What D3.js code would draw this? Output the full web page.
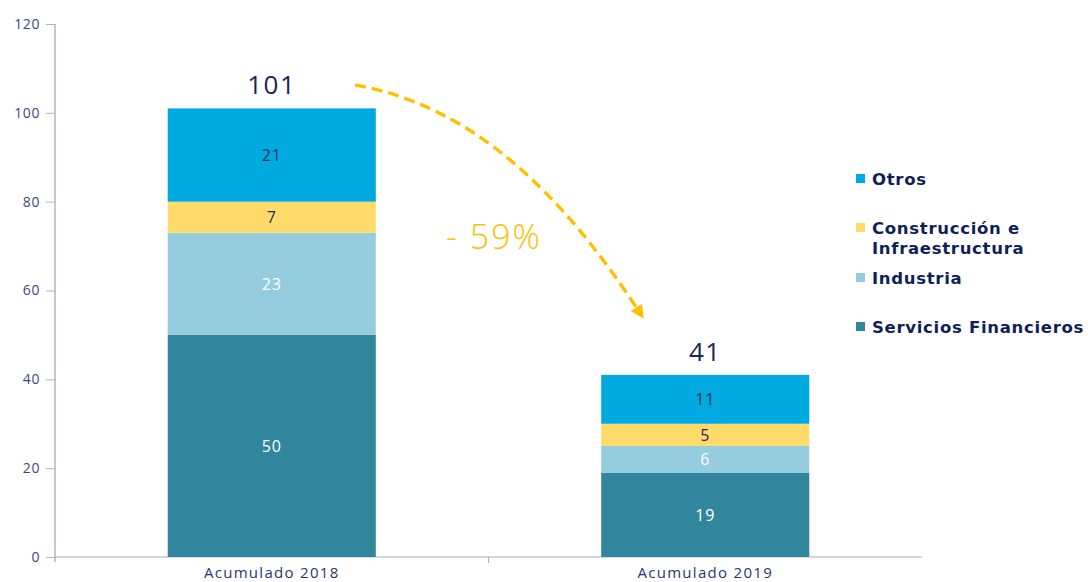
<!DOCTYPE html>
<html><head><meta charset="utf-8">
<script src="https://cdn.jsdelivr.net/npm/d3@7"></script>
<style>body{margin:0;background:#fff}svg{display:block}</style>
</head><body><svg id="c" width="1088" height="582"></svg>
<script>
const categories = ["Acumulado 2018", "Acumulado 2019"];
const seriesNames = ["Servicios Financieros", "Industria", "Construcción e Infraestructura", "Otros"];
const serviciosFinancieros = [50, 19];
const industria = [23, 6];
const construccion = [7, 5];
const otros = [21, 11];
const totals = [101, 41];
const yTicks = [0, 20, 40, 60, 80, 100, 120];
const changeLabel = "- 59%";

const colors = ["#31859C", "#96CDDE", "#FFDC6A", "#00A9E0"];
const labelColors = ["#ffffff", "#ffffff", "#1f2d5a", "#1f2d5a"];
const font = "'Open Sans', Lato, sans-serif";
const boldFont = "'DejaVu Sans', 'Open Sans', sans-serif";

const svg = d3.select("#c");
const x = d3.scaleBand().domain(categories).range([55, 922]).padding(0);
const y = d3.scaleLinear().domain([0, 120]).range([557, 24]);
const barW = x.bandwidth() * 0.48;

const series = [serviciosFinancieros, industria, construccion, otros];
const rows = categories.map((c, i) => {
  const o = {cat: c};
  seriesNames.forEach((s, k) => o[s] = series[k][i]);
  return o;
});
const stack = d3.stack().keys(seriesNames)(rows);

// axes
const yAxis = svg.append("g").attr("transform", "translate(55,0)")
  .call(d3.axisLeft(y).tickValues(yTicks).tickSize(9).tickPadding(6));
yAxis.select(".domain").attr("stroke", "#b4b6c4").attr("stroke-width", 1.5).attr("d", "M0,24V562");
yAxis.selectAll(".tick line").attr("stroke", "#b4b6c4");
yAxis.selectAll("text").attr("fill", "#3d4a80").attr("font-size", 14).attr("font-family", font).attr("letter-spacing", 0.6);

const xAxis = svg.append("g").attr("transform", "translate(0,557)")
  .call(d3.axisBottom(x).tickSize(0).tickPadding(10));
xAxis.select(".domain").attr("stroke", "#a9abbb").attr("d", "M55,0H922");
xAxis.selectAll("text").attr("fill", "#2a3670").attr("font-size", 15).attr("font-family", font).attr("letter-spacing", 1.3);
svg.append("line").attr("x1", x.step() + 55).attr("x2", x.step() + 55).attr("y1", 557).attr("y2", 563).attr("stroke", "#a9abbb");

// bars
stack.forEach((layer, k) => {
  const g = svg.append("g");
  g.selectAll("rect").data(layer).join("rect")
    .attr("x", d => x(d.data.cat) + (x.bandwidth() - barW) / 2)
    .attr("width", barW)
    .attr("y", d => y(d[1]))
    .attr("height", d => y(d[0]) - y(d[1]))
    .attr("fill", colors[k]);
  g.selectAll("text").data(layer).join("text")
    .attr("x", d => x(d.data.cat) + x.bandwidth() / 2)
    .attr("y", d => (y(d[0]) + y(d[1])) / 2)
    .attr("dy", "0.36em")
    .attr("text-anchor", "middle")
    .attr("font-size", 16).attr("font-family", font).attr("letter-spacing", 0.8)
    .attr("fill", labelColors[k])
    .text(d => d[1] - d[0]);
});

// totals
svg.selectAll(".tot").data(categories).join("text")
  .attr("x", c => x(c) + x.bandwidth() / 2)
  .attr("y", (c, i) => y(totals[i]) - 14)
  .attr("text-anchor", "middle")
  .attr("font-size", 26).attr("font-family", font).attr("letter-spacing", 1.5)
  .attr("fill", "#1a2657")
  .text((c, i) => totals[i]);

// arrow
const defs = svg.append("defs");
defs.append("marker").attr("id", "ah").attr("viewBox", "0 0 10 10").attr("refX", 5).attr("refY", 5)
  .attr("markerWidth", 4).attr("markerHeight", 4).attr("orient", "auto")
  .append("path").attr("d", "M0,0L10,5L0,10z").attr("fill", "#FFC000");
const p = d3.path();
p.moveTo(355, 85);
p.bezierCurveTo(470, 105, 560, 190, 640, 313);
svg.append("path").attr("d", p.toString()).attr("fill", "none")
  .attr("stroke", "#FFC000").attr("stroke-width", 3.4).attr("stroke-dasharray", "11,6")
  .attr("marker-end", "url(#ah)");
svg.append("text").attr("x", 494).attr("y", 249).attr("text-anchor", "middle")
  .attr("font-size", 34).attr("font-family", font).attr("font-weight", 300).attr("letter-spacing", 2)
  .attr("fill", "#FFC000").text(changeLabel);

// legend
const legend = [
  {k: 3, lines: ["Otros"], y: 179},
  {k: 2, lines: ["Construcción e", "Infraestructura"], y: 228},
  {k: 1, lines: ["Industria"], y: 278},
  {k: 0, lines: ["Servicios Financieros"], y: 327}
];
const lg = svg.append("g");
legend.forEach(l => {
  lg.append("rect").attr("x", 856).attr("y", l.y - 5).attr("width", 9).attr("height", 9).attr("fill", colors[l.k]);
  l.lines.forEach((s, i) => lg.append("text").attr("x", 872).attr("y", l.y + i * 20).attr("dy", "0.35em")
    .attr("font-size", 16.5).attr("font-weight", 700).attr("letter-spacing", 0.7)
    .attr("font-family", boldFont).attr("fill", "#0f1f5a").text(s));
});
</script></body></html>
